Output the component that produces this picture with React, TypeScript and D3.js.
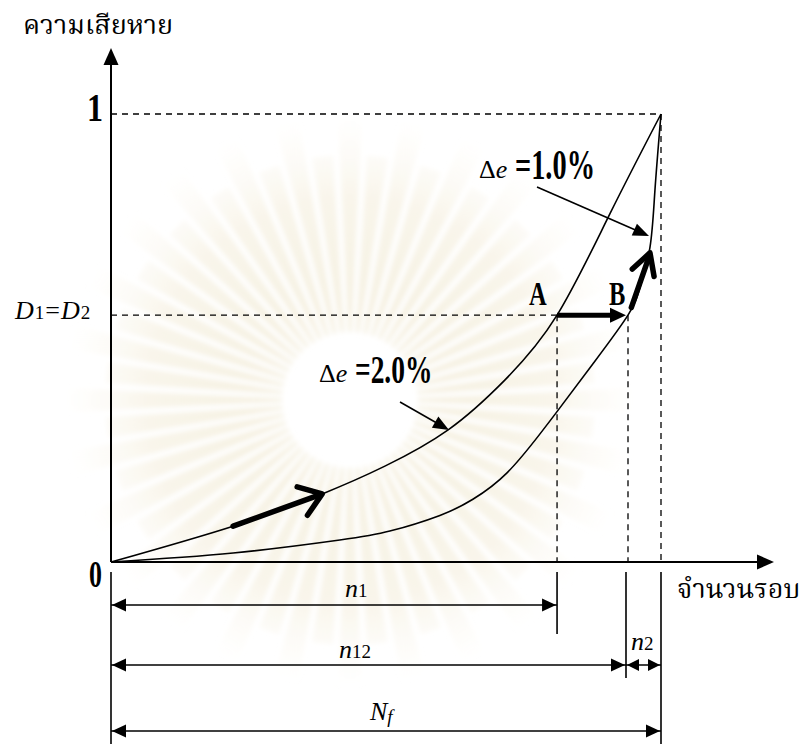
import React from "react";
import * as d3 from "d3";

// ---- data (fraction of Nf, damage 0..1) ----
const cycles1 = [0, 0.222, 0.384, 0.498, 0.613, 0.716, 0.811, 0.907, 1];
const damage1 = [0, 0.08, 0.152, 0.214, 0.295, 0.406, 0.551, 0.777, 1];
const cycles2 = [0, 0.222, 0.416, 0.507, 0.598, 0.658, 0.72, 0.78, 0.813, 0.876, 0.94, 0.962, 0.98, 0.989, 1];
const damage2 = [0, 0.02, 0.049, 0.069, 0.104, 0.14, 0.199, 0.286, 0.339, 0.442, 0.551, 0.614, 0.703, 0.83, 1];
const damageLevel = 0.551; // D1 = D2
const pointA = 0.811;
const pointB = 0.94;
const yTicks = ["0", "1"];

const W = 809;
const H = 744;
const x = d3.scaleLinear().domain([0, 1]).range([111, 661]);
const y = d3.scaleLinear().domain([0, 1]).range([562, 114]);

const lineGen = d3
  .line<[number, number]>()
  .x((d) => x(d[0]))
  .y((d) => y(d[1]))
  .curve(d3.curveNatural);

const pts1: [number, number][] = cycles1.map((c, i) => [c, damage1[i]]);
const pts2: [number, number][] = cycles2.map((c, i) => [c, damage2[i]]);

const thai = "'Noto Serif Thai','Noto Sans Thai Looped','Noto Sans Thai','Loma','Garuda','DejaVu Sans',sans-serif";
const serif = "'Liberation Serif','Times New Roman',serif";

function tri(x1: number, y1: number, x2: number, y2: number, len = 14, hw = 6) {
  const a = Math.atan2(y2 - y1, x2 - x1);
  const bx = x2 - len * Math.cos(a);
  const by = y2 - len * Math.sin(a);
  const px = -Math.sin(a) * hw;
  const py = Math.cos(a) * hw;
  return `M${x2},${y2}L${bx + px},${by + py}L${bx - px},${by - py}Z`;
}

function chevron(x1: number, y1: number, x2: number, y2: number, len = 24, ang = 0.5) {
  const a = Math.atan2(y2 - y1, x2 - x1);
  const l1x = x2 - len * Math.cos(a - ang);
  const l1y = y2 - len * Math.sin(a - ang);
  const l2x = x2 - len * Math.cos(a + ang);
  const l2y = y2 - len * Math.sin(a + ang);
  return `M${l1x},${l1y}L${x2},${y2}L${l2x},${l2y}`;
}

function Condensed({ tx, ty, size, children, sx = 0.72 }: any) {
  return (
    <text
      transform={`translate(${tx},${ty}) scale(${sx},1)`}
      fontFamily={serif}
      fontWeight="bold"
      fontSize={size}
      fill="#000"
    >
      {children}
    </text>
  );
}

function Sunburst() {
  const cx = 350;
  const cy = 400;
  const n = 56;
  const rays = d3.range(n).map((i) => {
    const a = (i / n) * Math.PI * 2;
    const w = (Math.PI * 2) / n / 2.6;
    const r0 = 68;
    const r1 = 160 + (i % 2 === 0 ? 125 : 85);
    const p = [
      [cx + r0 * Math.cos(a - w * 0.5), cy + r0 * Math.sin(a - w * 0.5)],
      [cx + r1 * Math.cos(a - w), cy + r1 * Math.sin(a - w)],
      [cx + r1 * Math.cos(a + w), cy + r1 * Math.sin(a + w)],
      [cx + r0 * Math.cos(a + w * 0.5), cy + r0 * Math.sin(a + w * 0.5)],
    ];
    return `M${p.map((q) => q.join(",")).join("L")}Z`;
  });
  return (
    <g>
      <defs>
        <radialGradient id="rayFade" cx={cx} cy={cy} r={290} gradientUnits="userSpaceOnUse">
          <stop offset="0.2" stopColor="#f4eedc" stopOpacity="0.95" />
          <stop offset="0.7" stopColor="#f6f1e2" stopOpacity="0.7" />
          <stop offset="1" stopColor="#fbf8f0" stopOpacity="0" />
        </radialGradient>
        <filter id="blurRay">
          <feGaussianBlur stdDeviation="2.5" />
        </filter>
      </defs>
      <g filter="url(#blurRay)">
        {rays.map((d, i) => (
          <path key={i} d={d} fill="url(#rayFade)" />
        ))}
      </g>
    </g>
  );
}

export default function App() {
  const yD = y(damageLevel);
  const xA = x(pointA);
  const xB = x(pointB);
  const x0 = x(0);
  const xN = x(1);
  const y0 = y(0);
  const y1 = y(1);

  const a1s: [number, number] = [x(0.222), y(0.08)];
  const a1e: [number, number] = [x(0.384), y(0.152)];
  const a3s: [number, number] = [x(0.946), y(0.568)];
  const a3e: [number, number] = [x(0.98), y(0.69)];

  const dimY1 = 605;
  const dimY2 = 665;
  const dimY3 = 731;
  const xN12 = 626;

  return (
    <svg width={W} height={H} style={{ position: "absolute", left: 0, top: 0, background: "#fff" }}>
      <rect width={W} height={H} fill="#fff" />
      <Sunburst />

      <g stroke="#000" strokeWidth={1.3} strokeDasharray="6,5" fill="none">
        <line x1={x0} y1={y1} x2={xN} y2={y1} />
        <line x1={x0} y1={yD} x2={xB} y2={yD} />
        <line x1={xA} y1={yD} x2={xA} y2={y0} />
        <line x1={xB} y1={yD} x2={xB} y2={y0} />
        <line x1={xN} y1={y1} x2={xN} y2={y0} />
      </g>

      <g stroke="#000" strokeWidth={2} fill="none">
        <line x1={x0} y1={y0} x2={x0} y2={64} />
        <line x1={x0} y1={y0} x2={758} y2={y0} />
      </g>
      <path d={tri(x0, y0, x0, 48, 17, 7.5)} fill="#000" />
      <path d={tri(x0, y0, 774, y0, 17, 7.5)} fill="#000" />

      <path d={lineGen(pts1) || ""} fill="none" stroke="#000" strokeWidth={1.6} />
      <path d={lineGen(pts2) || ""} fill="none" stroke="#000" strokeWidth={1.6} />

      <g stroke="#000" strokeWidth={5.5} strokeLinecap="round" strokeLinejoin="round" fill="none">
        <line x1={a1s[0]} y1={a1s[1]} x2={a1e[0] - 4} y2={a1e[1] + 1.5} />
        <path d={chevron(a1s[0], a1s[1], a1e[0], a1e[1], 26, 0.62)} />
        <line x1={a3s[0]} y1={a3s[1]} x2={a3e[0] - 1} y2={a3e[1] + 4} />
        <path d={chevron(a3s[0], a3s[1], a3e[0], a3e[1], 24, 0.5)} />
      </g>
      <line x1={xA} y1={yD} x2={xB - 12} y2={yD} stroke="#000" strokeWidth={5} />
      <path d={tri(xA, yD, xB - 2, yD, 16, 7.5)} fill="#000" />

      <line x1={537} y1={187} x2={640} y2={232} stroke="#000" strokeWidth={1.6} />
      <path d={tri(537, 187, 649, 236, 16, 6.5)} fill="#000" />
      <line x1={400} y1={402} x2={442} y2={426} stroke="#000" strokeWidth={1.6} />
      <path d={tri(400, 402, 449, 430, 16, 6.5)} fill="#000" />

      <g stroke="#000" strokeWidth={1.6} fill="none">
        <line x1={x0} y1={572} x2={x0} y2={H} />
        <line x1={xA} y1={572} x2={xA} y2={634} />
        <line x1={xN12} y1={572} x2={xN12} y2={678} />
        <line x1={xN} y1={572} x2={xN} y2={H} />
        <line x1={x0} y1={dimY1} x2={xA} y2={dimY1} />
        <line x1={x0} y1={dimY2} x2={xN12} y2={dimY2} />
        <line x1={xN12} y1={dimY2} x2={xN} y2={dimY2} />
        <line x1={x0} y1={dimY3} x2={xN} y2={dimY3} />
      </g>
      <g fill="#000">
        <path d={tri(xA, dimY1, x0 + 1, dimY1, 14, 6.5)} />
        <path d={tri(x0, dimY1, xA - 1, dimY1, 14, 6.5)} />
        <path d={tri(xN12, dimY2, x0 + 1, dimY2, 14, 6.5)} />
        <path d={tri(x0, dimY2, xN12 - 1, dimY2, 14, 6.5)} />
        <path d={tri(xN, dimY2, xN12 + 1, dimY2, 12, 6)} />
        <path d={tri(xN12, dimY2, xN - 1, dimY2, 12, 6)} />
        <path d={tri(xN, dimY3, x0 + 1, dimY3, 14, 6.5)} />
        <path d={tri(x0, dimY3, xN - 1, dimY3, 14, 6.5)} />
      </g>

      <text x={23} y={34} fontFamily={thai} fontSize={27} fill="#000">ความเสียหาย</text>
      <text x={677} y={598} fontFamily={thai} fontSize={27} fill="#000">จำนวนรอบ</text>

      <Condensed tx={87} ty={121} size={41} sx={0.78}>{yTicks[1]}</Condensed>
      <Condensed tx={89} ty={587} size={37} sx={0.7}>{yTicks[0]}</Condensed>
      <Condensed tx={529} ty={305} size={34} sx={0.72}>A</Condensed>
      <Condensed tx={609} ty={305} size={34} sx={0.72}>B</Condensed>

      <text x={15} y={319} fontFamily={serif} fontStyle="italic" fontSize={26} fill="#000" letterSpacing={1}>
        D<tspan fontStyle="normal" fontSize={19}>1</tspan>
        <tspan fontStyle="normal">=</tspan>D<tspan fontStyle="normal" fontSize={19}>2</tspan>
      </text>

      <text x={479} y={178} fontFamily={serif} fontSize={26} fill="#000">
        Δ<tspan fontStyle="italic">e</tspan>
      </text>
      <Condensed tx={515} ty={179} size={43} sx={0.66}>=1.0%</Condensed>

      <text x={319} y={382} fontFamily={serif} fontSize={26} fill="#000">
        Δ<tspan fontStyle="italic">e</tspan>
      </text>
      <Condensed tx={355} ty={383} size={41} sx={0.67}>=2.0%</Condensed>

      <text x={345} y={597} fontFamily={serif} fontStyle="italic" fontSize={26} fill="#000">
        n<tspan fontStyle="normal" fontSize={19}>1</tspan>
      </text>
      <text x={339} y={658} fontFamily={serif} fontStyle="italic" fontSize={26} fill="#000">
        n<tspan fontStyle="normal" fontSize={19}>12</tspan>
      </text>
      <text x={370} y={720} fontFamily={serif} fontStyle="italic" fontSize={26} fill="#000">
        N<tspan fontSize={19} dy={3}>f</tspan>
      </text>
      <text x={631} y={650} fontFamily={serif} fontStyle="italic" fontSize={26} fill="#000">
        n<tspan fontStyle="normal" fontSize={19}>2</tspan>
      </text>
    </svg>
  );
}
